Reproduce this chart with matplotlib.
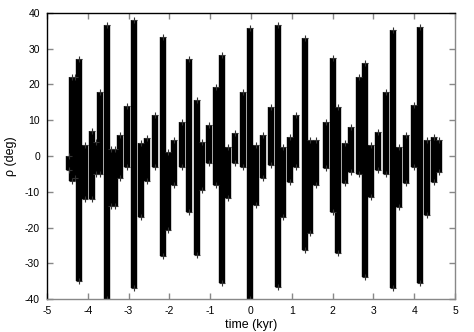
import matplotlib
matplotlib.use("Agg")
import matplotlib.pyplot as plt

plt.rcParams['font.family'] = ['Liberation Sans', 'DejaVu Sans']
plt.rcParams['axes.unicode_minus'] = False

# each band of the fast oscillation: centre time (kyr), lowest and highest rho (deg)
t_kyr = [-4.47, -4.38, -4.30, -4.21, -4.07, -3.90, -3.80, -3.69, -3.54,
         -3.42, -3.33, -3.21, -3.04, -2.87, -2.70, -2.55, -2.35, -2.16,
         -2.03, -1.89, -1.69, -1.52, -1.33, -1.20, -1.03, -0.86, -0.71,
         -0.56, -0.39, -0.20, -0.02, 0.12, 0.29, 0.49, 0.66, 0.78,
         0.96, 1.10, 1.32, 1.45, 1.59, 1.84, 2.01, 2.13, 2.30,
         2.45, 2.65, 2.79, 2.94, 3.11, 3.31, 3.48, 3.63, 3.80,
         3.99, 4.14, 4.31, 4.49, 4.60]
rho_lo = [-4, -7, -6, -35, -12, -12, -5, -5, -40,
          -14, -14, -6, -3, -37, -17, -7, -3, -28,
          -20.7, -8, -3, -15.6, -27.7, -9.5, -2, -8, -35.6,
          -11.8, -2, -3, -40, -13.7, -6.2, -2.5, -36.6, -17,
          -7.2, -3, -26.3, -21.6, -8, -3.4, -15.6, -27.2, -7.6,
          -4.4, -5, -33.8, -11.4, -4, -5, -37, -14.2, -7.6,
          -3, -35.6, -16.5, -7.2, -4.4]
rho_hi = [0, 22, 22, 27, 3, 7, 4, 18, 36.5,
          2, 2, 6, 14, 38, 3.6, 5, 11.5, 33.4,
          1, 4.4, 9.6, 27, 15.7, 4, 8.7, 19.4, 28.3,
          2.6, 6.4, 18, 35.7, 3, 5.9, 13.8, 36.6, 2.6,
          5.3, 11.5, 32.9, 4.4, 4.4, 9.6, 27.3, 13.8, 3.6,
          8.2, 22.2, 25.9, 3, 6.8, 18, 35.2, 2.6, 5.9,
          14.3, 36.2, 4.4, 5.3, 4.4]

fig = plt.figure(figsize=(4.74, 3.32), dpi=100)
ax = fig.add_axes([0.099, 0.099, 0.861, 0.862])

ax.vlines(t_kyr, rho_lo, rho_hi, colors='black', linewidth=4.6)
ax.plot(t_kyr, rho_lo, '+', color='#333333', ms=5, mew=0.8)
ax.plot(t_kyr, rho_hi, '+', color='#333333', ms=5, mew=0.8)

ax.set_xlim(-5, 5)
ax.set_ylim(-40, 40)
ax.set_xticks(range(-5, 6))
ax.set_yticks(range(-40, 41, 10))
ax.tick_params(direction='in', top=True, right=True, length=4, width=1,
               color='#888888', labelsize=7.5, pad=5)
ax.spines['bottom'].set_color('#888888')
ax.spines['right'].set_color('#888888')
for s in ax.spines.values():
    s.set_linewidth(1)

ax.set_xlabel('time (kyr)', fontsize=9, labelpad=2)
ax.set_ylabel('ρ (deg)', fontsize=9, labelpad=6)

fig.savefig('out.png', dpi=100)
